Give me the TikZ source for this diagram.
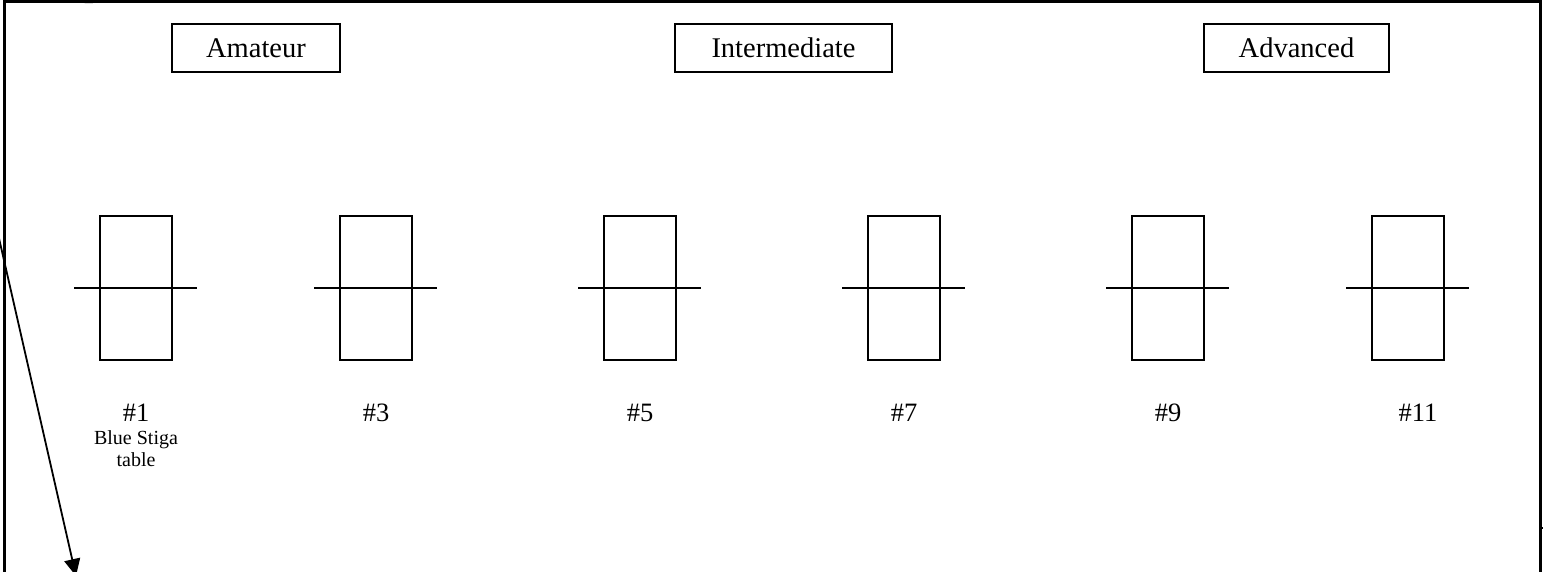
\documentclass[tikz,border=0pt]{standalone}
\usepackage{fontspec}
\setmainfont{Liberation Serif}
\usetikzlibrary{positioning,arrows.meta}

\tikzset{
    level/.style={draw, line width=1.8pt, minimum height=48pt, inner sep=0pt, font=\fontsize{28.5}{32}\selectfont},
    pingpong/.style={draw, line width=1.8pt, minimum width=72pt, minimum height=144pt, inner sep=0pt},
    net/.style={line width=1.8pt},
    tablenum/.style={inner sep=0pt, font=\fontsize{26.5}{30}\selectfont},
    tablenote/.style={inner sep=0pt, align=center, font=\fontsize{20}{22}\selectfont},
}

\begin{document}
\begin{tikzpicture}[x=1pt, y=-1pt]
    \useasboundingbox (0,0) rectangle (1543,571);
    \clip (0,0) rectangle (1543,571);

    % room
    \draw[line width=3pt] (4.5,580) -- (4.5,1) -- (1540.5,1) -- (1540.5,580);
    \draw[line width=1.5pt] (1540,528) -- (1546,528);

    % levels
    \node[level, minimum width=168pt] (amateur) at (256,48) {Amateur};
    \node[level, minimum width=217pt] (inter) at (783.5,48) {Intermediate};
    \node[level, minimum width=185pt] (advanced) at (1296.5,48) {Advanced};

    % tables
    \node[pingpong] (t1) at (136,288) {};
    \node[pingpong] (t3) at (376,288) {};
    \node[pingpong] (t5) at (640,288) {};
    \node[pingpong] (t7) at (904,288) {};
    \node[pingpong] (t9) at (1168,288) {};
    \node[pingpong] (t11) at (1408,288) {};

    \foreach \t in {t1,t3,t5,t7,t9,t11}
        \draw[net] ([xshift=-25pt]\t.west) -- ([xshift=24pt]\t.east);

    % numbers
    \node[tablenum, below=43pt of t1] (n1) {\#1};
    \node[tablenum, below=43pt of t3] (n3) {\#3};
    \node[tablenum, below=43pt of t5] (n5) {\#5};
    \node[tablenum, below=43pt of t7] (n7) {\#7};
    \node[tablenum, below=43pt of t9] (n9) {\#9};
    \node[tablenum, below=43pt of t11, xshift=10pt] (n11) {\#11};
    \node[tablenote, below=9pt of n1] (stiga) {Blue Stiga\\table};

    % arrows
    \coordinate (from) at (-12,190);
    \coordinate (to) at (76,576);
    \draw[line width=1.8pt, -{Triangle[length=17pt, width=16pt]}] (from) -- (to);
    \coordinate (fa) at (104,-6);
    \coordinate (fb) at (82,3);
    \draw[line width=1.5pt, -{Triangle[length=10pt, width=8pt]}] (fa) -- (fb);
\end{tikzpicture}
\end{document}
